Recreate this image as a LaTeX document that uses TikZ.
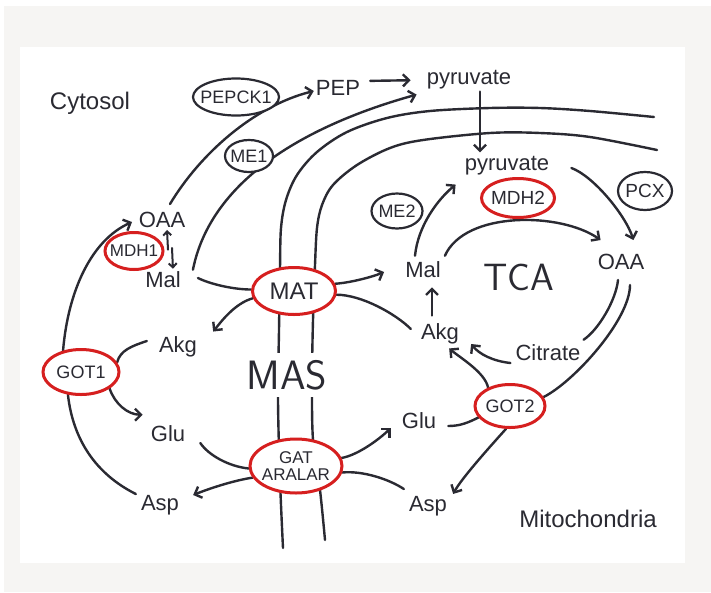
\documentclass[tikz,border=0pt]{standalone}
\usepackage{fontspec}
\setmainfont{Liberation Sans}
\usetikzlibrary{arrows.meta,shapes.geometric}
\definecolor{ink}{HTML}{2A2A32}
\definecolor{rd}{HTML}{D61F1F}
\definecolor{pagebg}{HTML}{F6F5F3}
\pgfdeclarelayer{back}
\pgfsetlayers{back,main}
\begin{document}
\begin{tikzpicture}[x=1pt,y=-1pt,
  lbl/.style={text=ink, font=\fontsize{22}{25}\selectfont, inner sep=2pt},
  ln/.style={draw=ink, line width=2.4pt, line cap=round},
  arr/.style={ln, -{Straight Barb[length=6pt,width=12pt]}},
  arrs/.style={ln, line width=2pt, -{Straight Barb[length=4pt,width=8pt]}},
  enz/.style={ellipse, draw=ink, line width=2.2pt, fill=white, text=ink, inner sep=-6pt, font=\fontsize{18}{18}\selectfont},
  renz/.style={enz, draw=rd, line width=3pt}]
\useasboundingbox (0,0) rectangle (711,592);

% text nodes
\node[lbl, font=\fontsize{24}{28}\selectfont] (cyt) at (90,103) {Cytosol};
\node[lbl, font=\fontsize{24}{28}\selectfont] (mito) at (588,519) {Mitochondria};
\node[lbl] (pep) at (338,88) {PEP};
\node[lbl] (pyrC) at (469,80) {pyruvate};
\node[lbl] (oaaC) at (162,220) {OAA};
\node[lbl] (malC) at (163,280) {Mal};
\node[lbl] (akgC) at (178,347) {Akg};
\node[lbl] (gluC) at (168,434) {Glu};
\node[lbl] (aspC) at (160,505) {Asp};
\node[lbl] (malM) at (423,270) {Mal};
\node[lbl] (akgM) at (440,334) {Akg};
\node[lbl] (pyrM) at (507,166) {pyruvate};
\node[lbl] (oaaM) at (621,262) {OAA};
\node[lbl] (cit) at (548,353) {Citrate};
\node[lbl] (gluM) at (419,421) {Glu};
\node[lbl] (aspM) at (428,506) {Asp};
\node[text=ink, font=\sffamily\fontsize{38}{40}\selectfont] (tca) at (519,277) {TCA};
\node[text=ink, fill=white, inner xsep=1pt, inner ysep=7pt, font=\sffamily\fontsize{41}{44}\selectfont] (mas) at (287,375) {MAS};

% enzyme nodes
\node[enz, minimum width=86pt, minimum height=37pt] (pepck) at (236,97) {PEPCK1};
\node[enz, minimum width=48pt, minimum height=32pt] (me1) at (249,156) {ME1};
\node[enz, minimum width=51pt, minimum height=35pt] (me2) at (397,211) {ME2};
\node[enz, font=\fontsize{19}{19}\selectfont, minimum width=54pt, minimum height=38pt] (pcx) at (645,191) {PCX};
\node[renz, font=\fontsize{17}{17}\selectfont, minimum width=58pt, minimum height=37pt] (mdh1) at (134,251) {MDH1};
\node[renz, font=\fontsize{24}{26}\selectfont, minimum width=83pt, minimum height=47pt] (mat) at (294,291) {MAT};
\node[renz, minimum width=76pt, minimum height=45pt] (got1) at (81,372) {GOT1};
\node[renz, align=center, font=\fontsize{17}{17}\selectfont, minimum width=92pt, minimum height=54pt] (gat) at (296,466) {GAT\\ARALAR};
\node[renz, font=\fontsize{19}{19}\selectfont, minimum width=73pt, minimum height=39pt] (mdh2) at (518,198) {MDH2};
\node[renz, minimum width=70pt, minimum height=43pt] (got2) at (510,406) {GOT2};

\begin{pgfonlayer}{back}
\fill[white] (0,0) rectangle (711,592);
\fill[pagebg] (4,6) rectangle (711,592);
\fill[white] (20,47) rectangle (685,563);

% membranes
\draw[ln] plot[smooth, tension=0.55] coordinates {(283,548) (280,480) (278,400) (279,330) (280,268) (281,228) (286,200) (297,175) (317,152) (347,132) (387,118) (430,111) (490,108) (540,108) (590,111) (654,117)};
\draw[ln] plot[smooth, tension=0.55] coordinates {(325,540) (320,490) (313,440) (312,380) (313,320) (315,265) (317,228) (322,205) (333,185) (357,165) (390,148) (423,140) (490,133) (540,133) (590,137) (657,150)};

% cytosol connectors
\draw[arr] ([xshift=8pt,yshift=6pt]oaaC.north) .. controls +(30,-50) and +(-60,15) .. ([yshift=-3pt]pep.west);
\draw[arr] ([xshift=10pt]malC.north east) .. controls +(20,-100) and +(-90,25) .. ([xshift=-8pt,yshift=-3pt]pyrC.south west);
\draw[arr, shorten <=8pt, shorten >=14pt] ([yshift=7pt]pep.east) -- (pyrC.west);
\draw[arr, shorten >=2pt] ([xshift=11pt]pyrC.south) -- ([xshift=-27pt]pyrM.north);
\draw[arrs] ([xshift=5pt,yshift=20pt]malC.north) -- ([xshift=5pt]oaaC.south);
\draw[arrs, shorten >=1pt] ([xshift=10pt,yshift=-18pt]oaaC.south) -- ([xshift=10pt]malC.north);
\draw[arr, shorten >=5pt] (got1.130) .. controls +(5,-60) and +(-45,20) .. (oaaC.west);
\draw[ln] (got1.240) .. controls +(5,45) and +(-40,-20) .. ([xshift=-3pt,yshift=11pt]aspC.west);
\draw[ln] (got1.15) .. controls +(3,-12) and +(-15,5) .. ([xshift=-10pt,yshift=6pt]akgC.west);
\draw[arr] (got1.-30) .. controls +(5,15) and +(-15,0) .. ([xshift=-6pt,yshift=9pt]gluC.north west);
\draw[ln] ([xshift=13pt,yshift=-9pt]gluC.east) .. controls +(8,12) and +(-20,-2) .. (gat.183);
\draw[arr] (gat.195) .. controls +(-20,3) and +(15,-6) .. ([xshift=12pt,yshift=10pt]aspC.east);
\draw[arr] (mat.190) .. controls +(-18,5) and +(8,-10) .. ([xshift=14pt,yshift=3pt]akgC.north east);
\draw[ln] ([xshift=15pt,yshift=2pt]malC.east) .. controls +(12,6) and +(-18,0) .. (mat.178);

% mitochondria connectors
\draw[arr] (mat.10) .. controls +(15,-1) and +(-12,5) .. ([xshift=-19pt,yshift=-2pt]malM.west);
\draw[ln] (mat.-5) .. controls +(25,0) and +(-15,-15) .. ([xshift=-8pt,yshift=5pt]akgM.west);
\draw[arr] ([xshift=-8pt,yshift=6pt]akgM.north) -- ([xshift=9pt,yshift=-7pt]malM.south);
\draw[arr] ([xshift=-8pt,yshift=4pt]malM.north) .. controls +(3,-30) and +(-18,15) .. ([xshift=-7pt,yshift=-7pt]pyrM.south west);
\draw[arr] ([xshift=2pt,yshift=4pt]malM.north east) .. controls +(20,-45) and +(-40,-28) .. ([xshift=5pt,yshift=12pt]oaaM.north west);
\draw[arr] ([xshift=20pt,yshift=-2pt]pyrM.east) .. controls +(22,8) and +(-8,-25) .. ([xshift=-13pt,yshift=12pt]oaaM.north east);
\draw[ln] ([xshift=-3pt,yshift=-8pt]oaaM.south) .. controls +(-2,20) and +(15,-10) .. ([xshift=1pt,yshift=3pt]cit.north east);
\draw[ln] (got2.15) .. controls +(30,-15) and +(0,35) .. ([xshift=9pt,yshift=-13pt]oaaM.south);
\draw[arr] ([xshift=-3pt,yshift=-10pt]cit.west) .. controls +(-18,-2) and +(8,10) .. ([xshift=10pt,yshift=-10pt]akgM.east);
\draw[arr] (got2.140) .. controls +(-3,-15) and +(12,10) .. ([xshift=-12pt,yshift=-2pt]akgM.south east);
\draw[ln] ([xshift=10pt,yshift=-5pt]gluM.east) .. controls +(12,0) and +(-10,5) .. (got2.200);
\draw[arr] (gat.10) .. controls +(17,-3) and +(-10,10) .. ([xshift=-9pt,yshift=-7pt]gluM.west);
\draw[ln] (gat.-8) .. controls +(20,-2) and +(-15,-10) .. ([xshift=-3pt,yshift=17pt]aspM.west);
\draw[arr] (got2.-100) .. controls +(-18,20) and +(8,-15) .. ([xshift=4pt]aspM.north east);
\end{pgfonlayer}
\end{tikzpicture}
\end{document}
